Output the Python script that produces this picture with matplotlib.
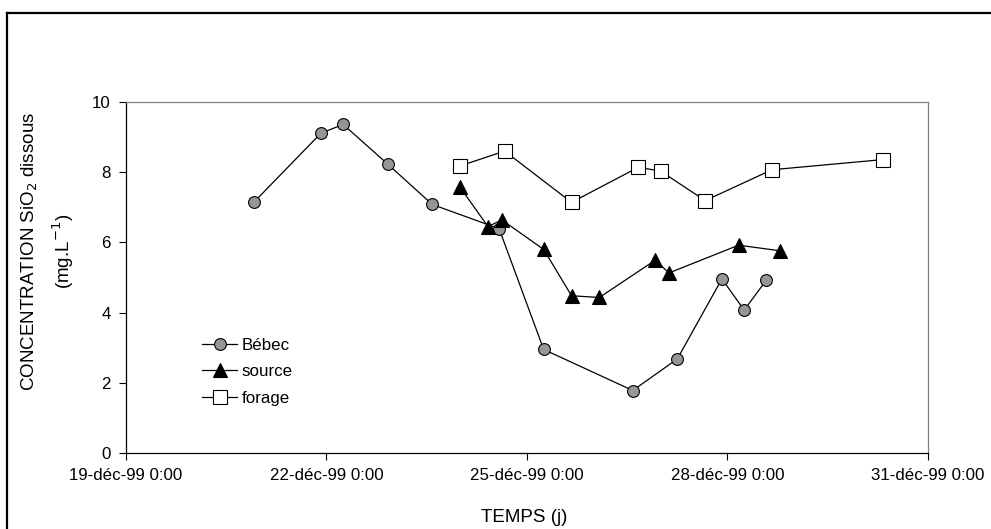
import numpy as np
import pandas as pd
from matplotlib import pyplot as plt
from matplotlib.lines import Line2D

plt.rcParams['font.family'] = ['Liberation Sans', 'DejaVu Sans']

# data
bebec_dates = ['1999-12-20 22:00', '1999-12-21 22:00', '1999-12-22 06:00', '1999-12-22 22:00',
               '1999-12-23 14:00', '1999-12-24 14:00', '1999-12-25 06:00', '1999-12-26 14:00',
               '1999-12-27 06:00', '1999-12-27 22:00', '1999-12-28 06:00', '1999-12-28 14:00']
bebec_vals = [7.15, 9.11, 9.36, 8.23, 7.08, 6.39, 2.95, 1.78, 2.68, 4.96, 4.07, 4.93]

source_dates = ['1999-12-24 00:00', '1999-12-24 10:00', '1999-12-24 15:00', '1999-12-25 06:00',
                '1999-12-25 16:00', '1999-12-26 02:00', '1999-12-26 22:00', '1999-12-27 03:00',
                '1999-12-28 04:00', '1999-12-28 19:00']
source_vals = [7.57, 6.45, 6.64, 5.80, 4.48, 4.43, 5.49, 5.13, 5.92, 5.76]

forage_dates = ['1999-12-24 00:00', '1999-12-24 16:00', '1999-12-25 16:00', '1999-12-26 16:00',
                '1999-12-27 00:00', '1999-12-27 16:00', '1999-12-28 16:00', '1999-12-30 08:00']
forage_vals = [8.18, 8.60, 7.14, 8.14, 8.03, 7.19, 8.07, 8.36]

tick_dates = ['1999-12-19', '1999-12-22', '1999-12-25', '1999-12-28', '1999-12-31']
tick_labels = ['19-déc-99 0:00', '22-déc-99 0:00', '25-déc-99 0:00', '28-déc-99 0:00', '31-déc-99 0:00']
y_ticks = [0, 2, 4, 6, 8, 10]

fs = 12.2
fs_title = 13.5

fig = plt.figure(figsize=(9.91, 5.29), dpi=100)
ax = fig.add_axes([0.1271, 0.1437, 0.8093, 0.6635])

ax.plot(pd.to_datetime(bebec_dates), bebec_vals, '-', color='black', lw=0.9,
        marker='o', ms=8.5, mfc='#969696', mec='black', mew=0.8, label='Bébec')
ax.plot(pd.to_datetime(source_dates), source_vals, '-', color='black', lw=0.9,
        marker='^', ms=9.5, mfc='black', mec='black', mew=0.8, label='source')
ax.plot(pd.to_datetime(forage_dates), forage_vals, '-', color='black', lw=0.9,
        marker='s', ms=9.5, mfc='white', mec='black', mew=0.8, label='forage')

ax.set_xlim(pd.Timestamp(tick_dates[0]), pd.Timestamp(tick_dates[-1]))
ax.set_ylim(0, 10)
ax.set_xticks(pd.to_datetime(tick_dates), tick_labels)
ax.set_yticks(y_ticks)
ax.tick_params(axis='both', direction='out', length=5, width=0.8, labelsize=fs)
ax.tick_params(axis='x', pad=6)
ax.tick_params(axis='y', pad=6)

for s in ['left', 'bottom']:
    ax.spines[s].set_color('black')
    ax.spines[s].set_linewidth(0.9)
for s in ['top', 'right']:
    ax.spines[s].set_color('#808080')
    ax.spines[s].set_linewidth(0.9)

leg = ax.legend(loc='upper left', bbox_to_anchor=(0.195, 0.378), bbox_transform=fig.transFigure,
                frameon=False, fontsize=fs, handlelength=2.1, handletextpad=0.25,
                labelspacing=0.7, borderpad=0)

fig.text(0.030, 0.524, 'CONCENTRATION SiO$_2$ dissous', rotation=90, ha='center', va='center',
         fontsize=fs_title)
fig.text(0.064, 0.524, '(mg.L$^{-1}$)', rotation=90, ha='center', va='center', fontsize=fs_title)
fig.text(0.529, 0.022, 'TEMPS (j)', ha='center', va='center', fontsize=fs_title)

# outer frame (cut at right and bottom edge)
fig.add_artist(Line2D([0.007, 0.007], [0.0, 0.975], transform=fig.transFigure, color='black', lw=1.6))
fig.add_artist(Line2D([0.007, 1.0], [0.975, 0.975], transform=fig.transFigure, color='black', lw=1.6))

fig.savefig('out.png', dpi=100)
